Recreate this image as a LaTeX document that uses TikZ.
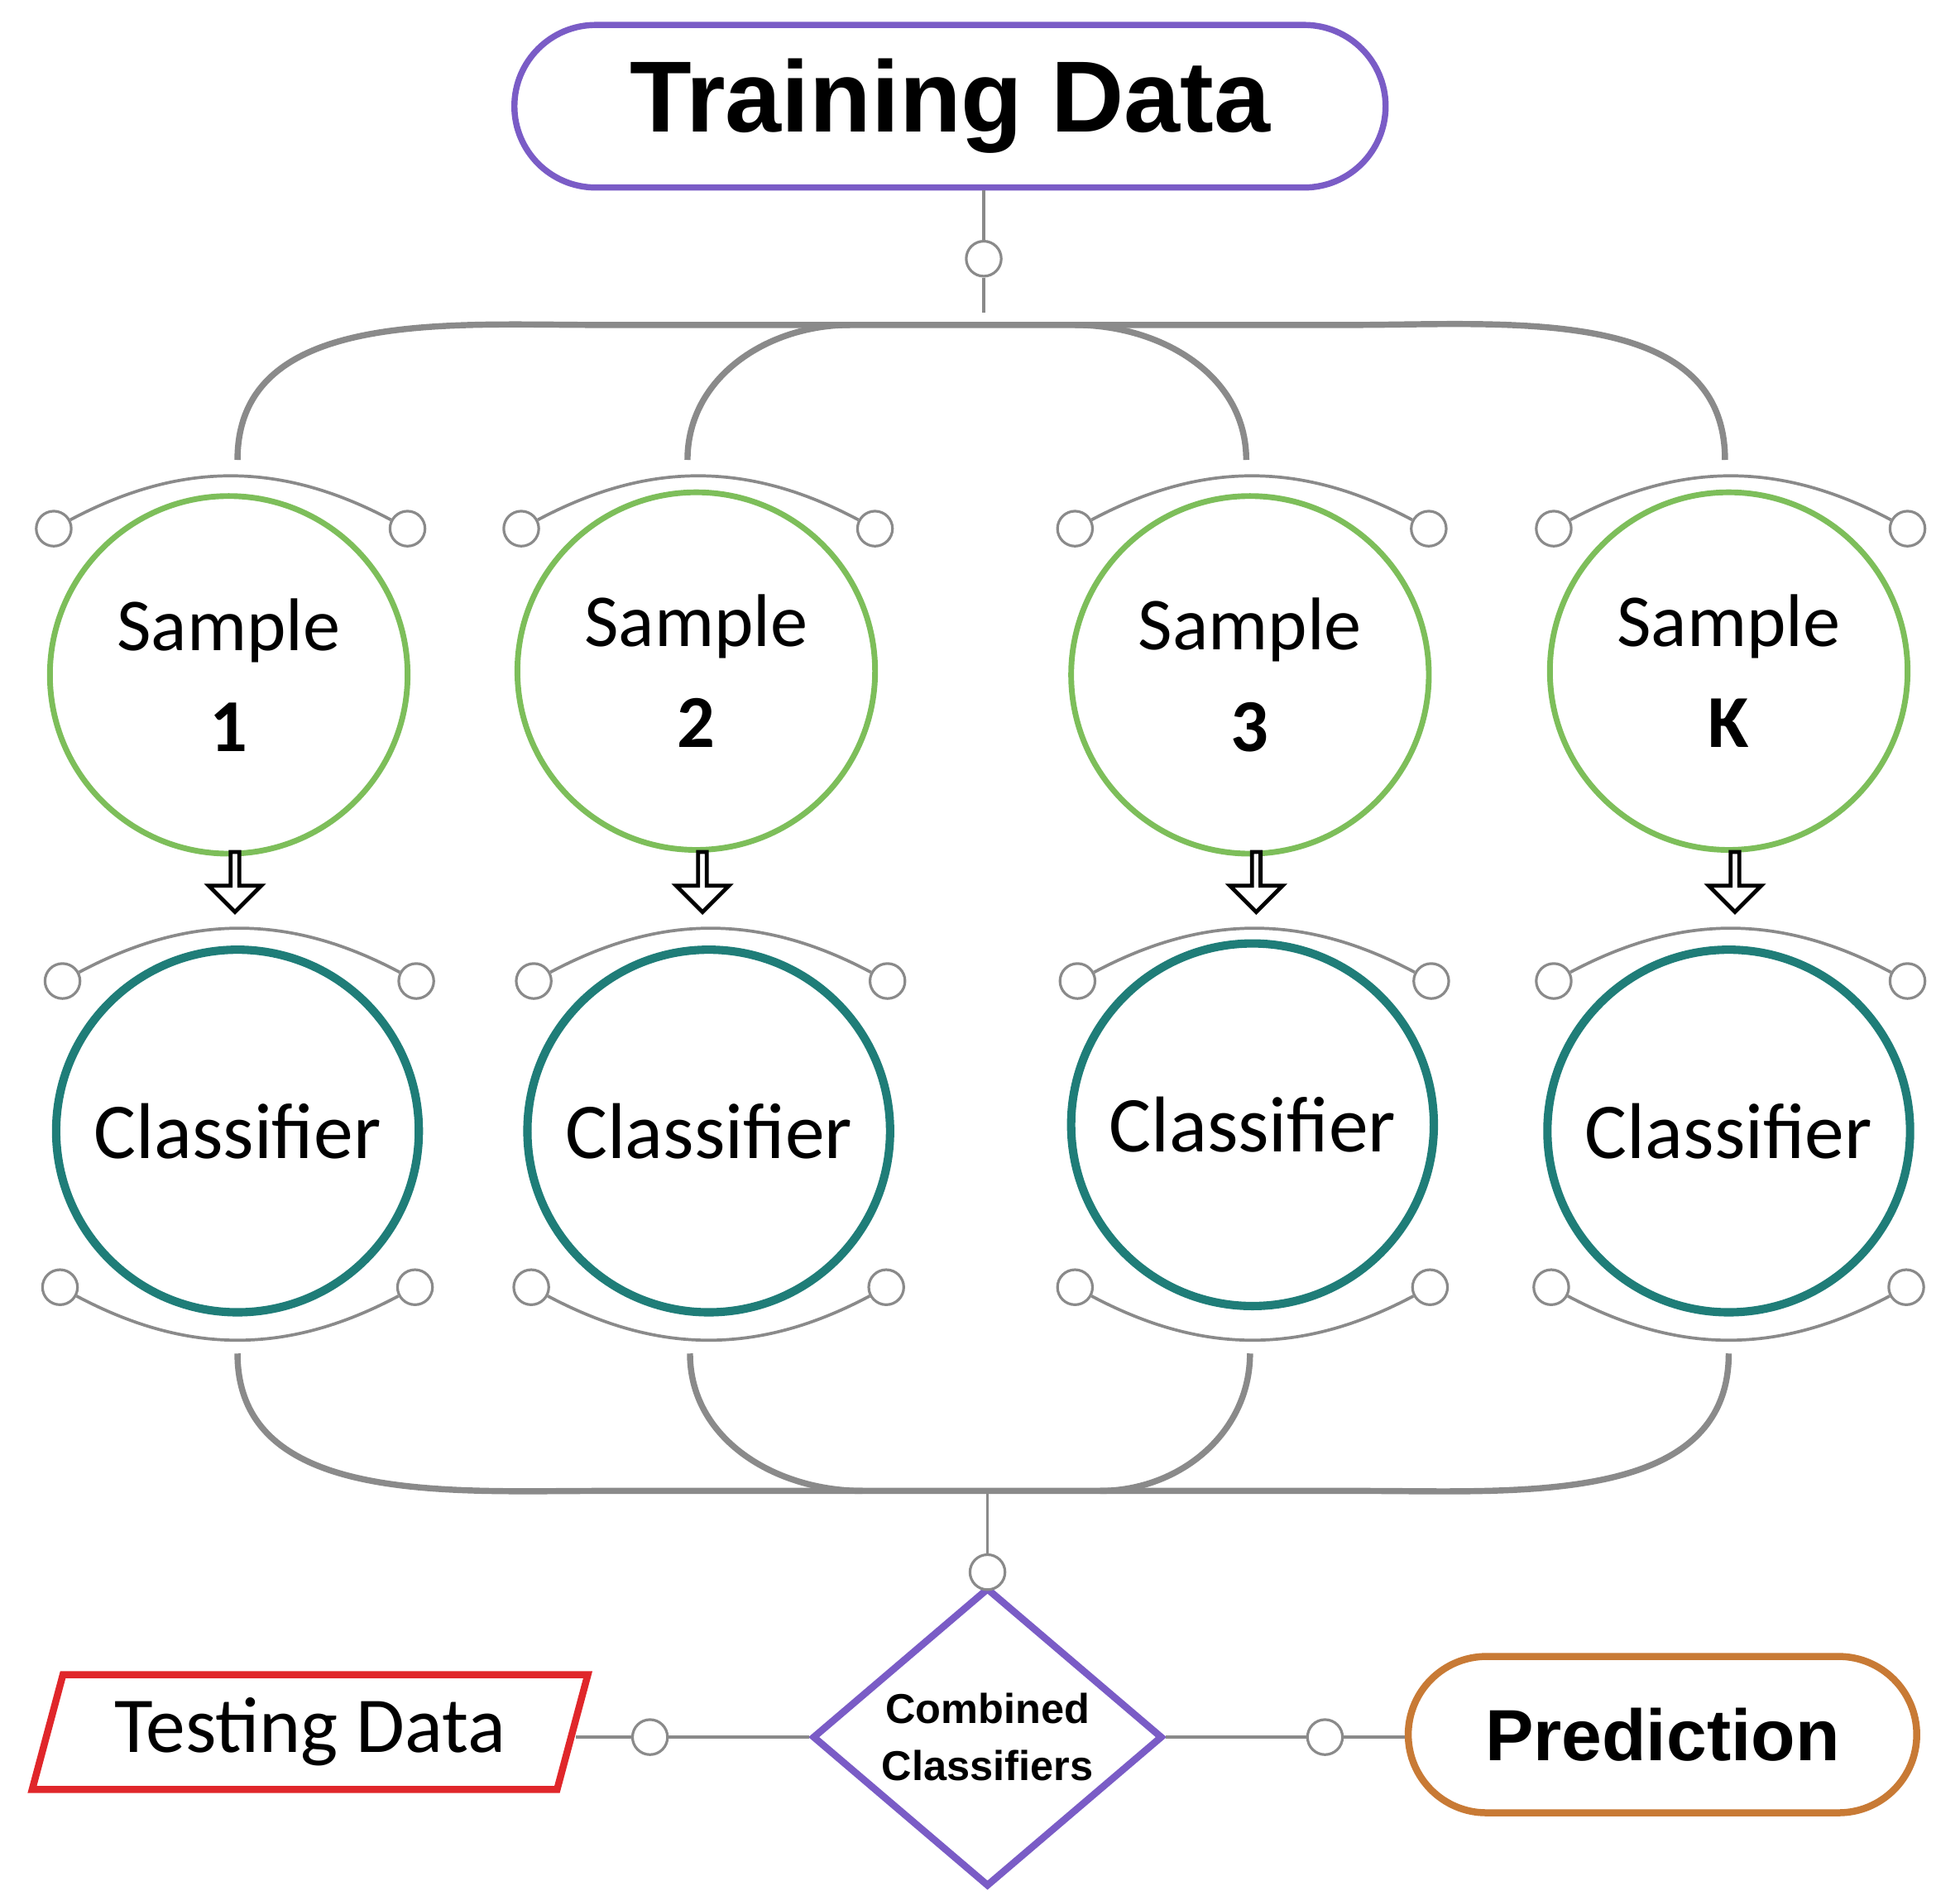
\documentclass[tikz,border=0pt]{standalone}
\usepackage{fontspec}
\setmainfont{Carlito}
\newfontfamily\arialf{Liberation Sans}
\usetikzlibrary{shapes.geometric,shapes.arrows,shapes.misc}
\definecolor{sgreen}{HTML}{7DBE5A}
\definecolor{cteal}{HTML}{1F7D78}
\definecolor{ppur}{HTML}{7A5CC6}
\definecolor{rred}{HTML}{E0262A}
\definecolor{bbrown}{HTML}{C87A35}
\definecolor{lgray}{HTML}{8A8A8A}
\tikzset{
 sc/.style={circle,draw=lgray,line width=0.6pt,fill=white,minimum size=0.28cm,inner sep=0pt},
 samp/.style={circle,draw=sgreen,line width=1.3pt,minimum size=2.86cm,align=center,font=\fontsize{17}{25}\selectfont},
 clas/.style={circle,draw=cteal,line width=1.9pt,minimum size=2.9cm,font=\fontsize{18}{22}\selectfont},
 arc/.style={draw=lgray,line width=0.7pt},
 br/.style={draw=lgray,line width=1.4pt},
 harr/.style={single arrow,draw=black,fill=white,line width=0.9pt,shape border rotate=270,minimum width=0.42cm,minimum height=0.48cm,single arrow head extend=0.08cm,inner sep=0pt},
 conn/.style={draw=lgray,line width=0.7pt}
}
\begin{document}
\begin{tikzpicture}[x=0.01cm,y=-0.01cm]
\useasboundingbox (0,0) rectangle (1568,1520);
% top
\node[rounded rectangle,draw=ppur,line width=1.4pt,minimum width=7.2cm,minimum height=1.3cm,font=\arialf\bfseries\fontsize{23}{28}\selectfont] (td) at (760,85) {Training Data};
\coordinate (tj) at (787,250);
\node[sc] (tc) at (787,207) {};
\draw[conn] (td.south-|tc) -- (tc) -- (tj);
% top brackets
\coordinate (t1) at (190,368);\coordinate (t2) at (550,368);\coordinate (t3) at (997,368);\coordinate (t4) at (1380,368);
\draw[br] (t1) to[out=90,in=180] (480,260) -- (1080,260) to[out=0,in=90] (t4);
\draw[br] (t2) to[out=90,in=180] (680,260);
\draw[br] (t3) to[out=90,in=0] (860,260);
% columns
\foreach \i/\sx/\sy/\cx/\cy/\lab in {1/183/540/190/905/1, 2/557/537/567/905/2, 3/1000/540/1002/900/3, 4/1383/537/1383/905/K}{
  \node[samp] (s\i) at (\sx,\sy) {Sample\\[-2pt]\textbf{\lab}};
  \node[sc] (sl\i) at (\sx-140,423) {};
  \node[sc] (sr\i) at (\sx+143,423) {};
  \draw[arc] (sl\i) to[bend left=28] (sr\i);
  \node[harr] (a\i) at (\sx+5,704) {};
  \node[clas] (c\i) at (\cx,\cy) {Classifier};
  \node[sc] (cl\i) at (\cx-140,785) {};
  \node[sc] (cr\i) at (\cx+143,785) {};
  \draw[arc] (cl\i) to[bend left=28] (cr\i);
  \node[sc] (bl\i) at (\cx-142,1030) {};
  \node[sc] (bR\i) at (\cx+142,1030) {};
  \draw[arc] (bl\i) to[bend right=28] (bR\i);
}
% bottom brackets
\coordinate (b1) at (190,1083);\coordinate (b2) at (552,1083);\coordinate (b3) at (1000,1083);\coordinate (b4) at (1383,1083);
\coordinate (bj) at (790,1195);
\draw[br] (b1) to[out=270,in=180] (480,1193) -- (1090,1193) to[out=0,in=270] (b4);
\draw[br] (b2) to[out=270,in=180] (690,1193);
\draw[br] (b3) to[out=270,in=0] (880,1193);
% bottom row
\node[diamond,draw=ppur,line width=1.6pt,minimum width=2.8cm,minimum height=2.2cm,inner sep=0pt,align=center,font=\arialf\bfseries\fontsize{9.5}{13}\selectfont] (cc) at (790,1390) {Combined\\Classifiers};
\node[sc] (cj) at (790,1258) {};
\draw[conn] (bj) -- (cj);
\node[trapezium,trapezium left angle=75,trapezium right angle=105,draw=rred,line width=1.6pt,minimum width=4.45cm,minimum height=0.8cm,font=\fontsize{18}{22}\selectfont] (tst) at (248,1386) {Testing Data};
\node[sc] (tsc) at (520,1390) {};
\draw[conn] (tst.east|-tsc) -- (tsc) -- (cc.west);
\node[rounded rectangle,draw=bbrown,line width=1.6pt,minimum width=4.3cm,minimum height=1.25cm,font=\arialf\bfseries\fontsize{16.5}{20}\selectfont] (pr) at (1330,1388) {Prediction};
\node[sc] (prc) at (1060,1390) {};
\draw[conn] (cc.east) -- (prc) -- (pr.west|-prc);
\end{tikzpicture}
\end{document}
